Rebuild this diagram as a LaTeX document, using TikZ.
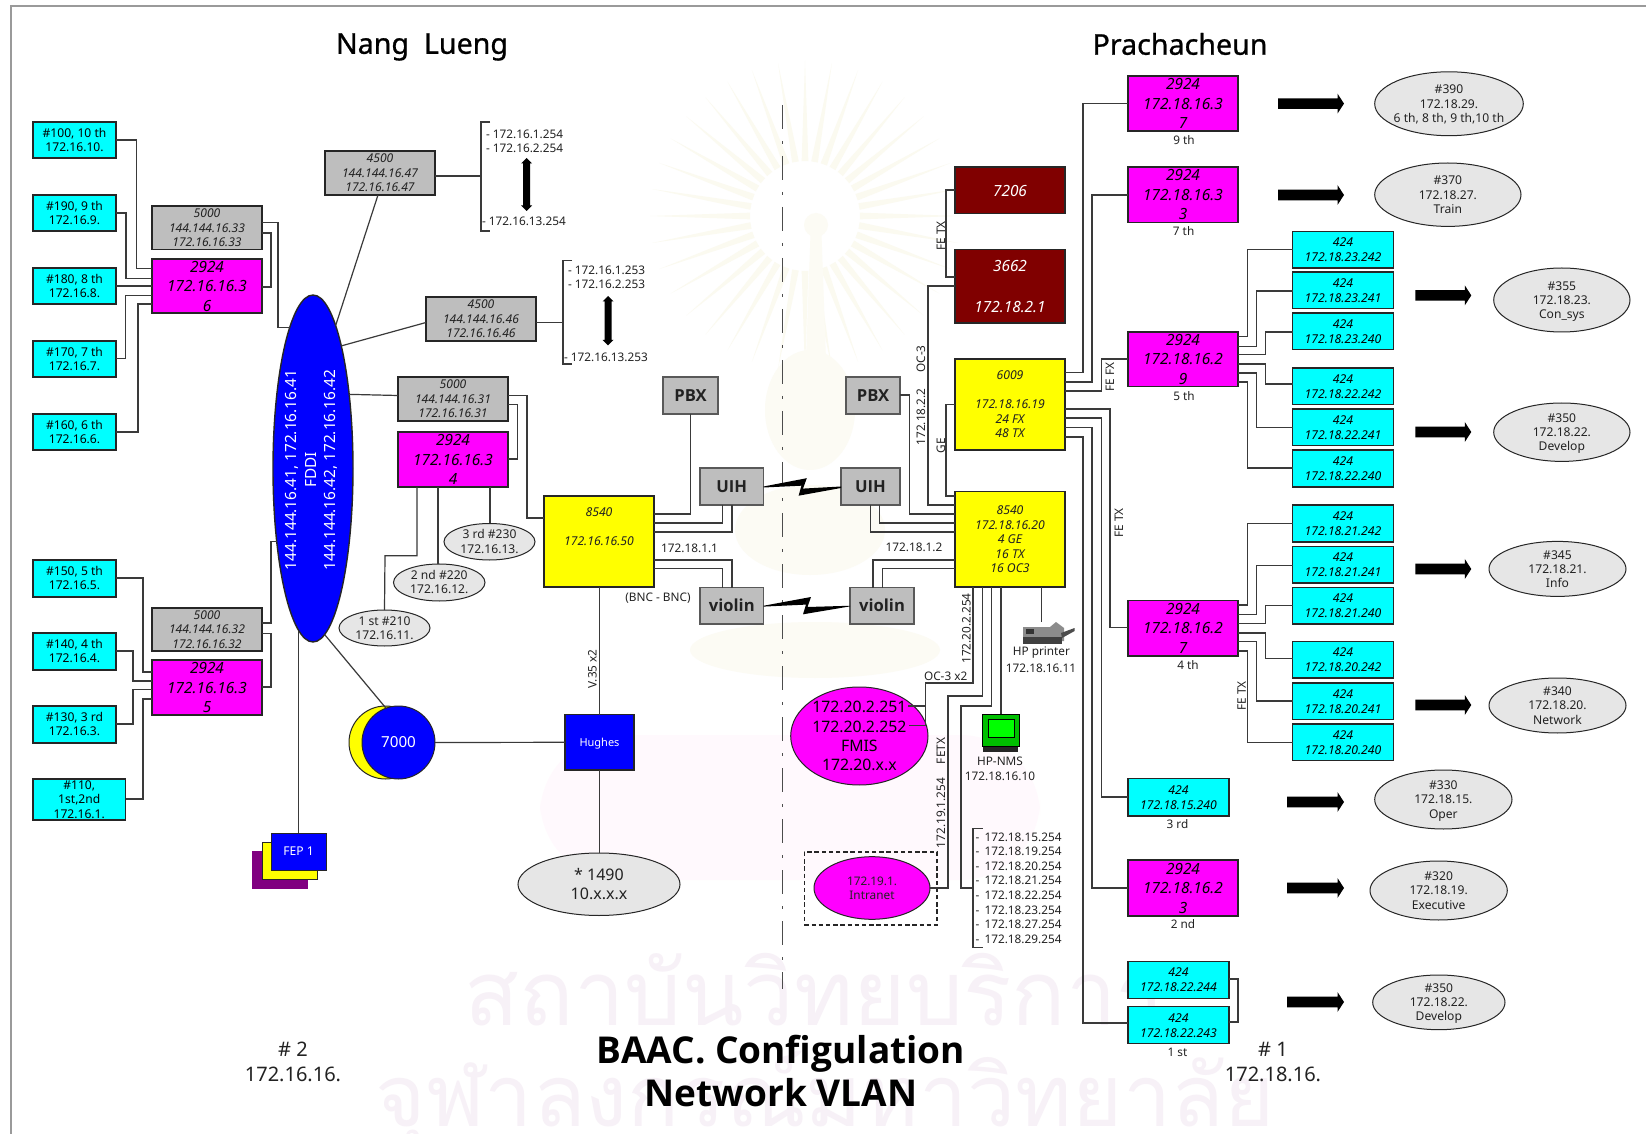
\documentclass[tikz,border=0pt]{standalone}
\usepackage{fontspec}
\setmainfont{Noto Sans}
\newfontfamily\thaif[Script=Thai]{Loma}
\newfontfamily\hvyf{Open Sans}
\newfontfamily\medf[FakeBold=0.9]{Noto Sans}
\usetikzlibrary{shapes.geometric}
\definecolor{pcyan}{HTML}{00FFFF}
\definecolor{pmag}{HTML}{FF00FF}
\definecolor{pyel}{HTML}{FFFF00}
\definecolor{pgry}{HTML}{BEBEBE}
\definecolor{pred}{HTML}{800000}
\definecolor{pblue}{HTML}{0000FF}
\definecolor{ppur}{HTML}{800080}
\definecolor{poval}{HTML}{E6E6E6}
\definecolor{pframe}{HTML}{9A9A9A}
\definecolor{pwire}{HTML}{3A3A3A}
\definecolor{ptxt}{HTML}{222222}
\definecolor{wmy}{HTML}{FBFAF0}
\definecolor{wmg}{HTML}{FCFBF4}
\definecolor{wmp}{HTML}{FFF9FD}
\definecolor{wmt}{HTML}{F7F1F7}
\newcommand\fsCy{\fontsize{6.05}{7.1}\selectfont}
\newcommand\fsIt{\fontsize{6.1}{7.5}\selectfont\itshape}
\newcommand\fsGr{\fontsize{6.05}{7.2}\selectfont\itshape}
\newcommand\fsMa{\fontsize{7.7}{9.8}\selectfont\itshape}
\newcommand\fsYe{\fontsize{6.1}{7.25}\selectfont\itshape}
\newcommand\fsRe{\fontsize{7.7}{10.2}\selectfont\itshape}
\newcommand\fsDe{\hvyf\fontsize{8.3}{10}\selectfont\bfseries}
\newcommand\fsFm{\fontsize{7.9}{9.65}\selectfont}
\newcommand\fsLa{\fontsize{5.9}{7.1}\selectfont}
\newcommand\tbl[1]{\sbox0{\begin{tabular}{@{}c@{}}#1\end{tabular}}\raisebox{\dimexpr(\dp0-\ht0)/2-0.37em\relax}[0pt][0pt]{\makebox[0pt]{\box0}}}
\newcommand\bx[7]{%
 \pgfmathsetmacro\cxx{(#3+#5)/2}\pgfmathsetmacro\cyy{(#4+#6)/2}%
 \pgfmathsetmacro\www{(#5-#3)*0.5}\pgfmathsetmacro\hhh{(#6-#4)*0.5}%
 \node[#1,minimum width=\www pt,minimum height=\hhh pt] (#2) at (\cxx,\cyy) {\tbl{#7}};}
% horizontal-vertical-horizontal connector
\newcommand\hvh[5]{\draw[wire] (#1 |- 0,#2) -| (#3,#4) -- (#5 |- 0,#4);}
\newcommand\barw[3]{\fill[black] (#1,{#3-5.3}) -- ({#2-6.5},{#3-5.3}) -- ({#2-6.5},{#3-10}) -- (#2,#3) -- ({#2-6.5},{#3+10}) -- ({#2-6.5},{#3+5.3}) -- (#1,{#3+5.3}) -- cycle;}
\newcommand\dbl[3]{\fill[black] ({#1-3.5},{#2+5.5}) -- ({#1-5.5},{#2+5.5}) -- (#1,#2) -- ({#1+5.5},{#2+5.5}) -- ({#1+3.5},{#2+5.5}) -- ({#1+3.5},{#3-5.5}) -- ({#1+5.5},{#3-5.5}) -- (#1,#3) -- ({#1-5.5},{#3-5.5}) -- ({#1-3.5},{#3-5.5}) -- cycle;}
\tikzset{
 wire/.style={draw=pwire,line width=0.6pt},
 base/.style={inner sep=0pt,outer sep=0pt,draw=black!85,line width=0.7pt,text=black},
 boxcy/.style={base,fill=pcyan,font=\fsCy},
 boxci/.style={base,fill=pcyan,font=\fsIt},
 boxgr/.style={base,fill=pgry,font=\fsGr,text=ptxt},
 boxma/.style={base,fill=pmag,font=\fsMa},
 boxye/.style={base,fill=pyel,font=\fsYe,text=ptxt},
 boxre/.style={base,fill=pred,font=\fsRe,text=white},
 boxde/.style={base,fill=pgry,draw=black!65,font=\fsDe,text=ptxt},
 oval/.style={base,ellipse,fill=poval,line width=0.5pt,font=\fsCy,text=ptxt},
 lab/.style={inner sep=0pt,outer sep=0pt,font=\fsLa,text=ptxt,align=center},
 ttl/.style={inner sep=0pt,outer sep=0pt,text=black,align=center},
}
\begin{document}
\begin{tikzpicture}[x=0.5pt,y=-0.5pt]
\useasboundingbox (0,0) rectangle (1646,1134);
\fill[white] (0,0) rectangle (1646,1134);
% watermark
\foreach \a in {0,10,...,350}{\fill[wmy] ({805+55*cos(\a-3.5)},{216+55*sin(\a-3.5)}) -- ({805+155*cos(\a)},{216+155*sin(\a)}) -- ({805+55*cos(\a+3.5)},{216+55*sin(\a+3.5)}) -- cycle;}
\fill[wmg] (811,220) -- (821,220) -- (826,360) -- (806,360) -- cycle;
\fill[wmg] (816,225) circle [radius=12];
\fill[wmg] (810,410) ellipse [x radius=45,y radius=60];
\fill[wmg] (810,530) ellipse [x radius=75,y radius=45];
\fill[wmg] (815,650) ellipse [x radius=125,y radius=28];
\fill[wmp,rounded corners=40pt] (540,735) rectangle (1040,880);
\node[ttl,font=\fontsize{45}{50}\selectfont\thaif,text=wmt] (wm1) at (815,990) {สถาบันวิทยบริการ};
\node[ttl,font=\fontsize{43}{50}\selectfont\thaif,text=wmt] (wm2) at (825,1100) {จุฬาลงกรณ์มหาวิทยาลัย};
% frame
\draw[pframe,line width=1.1pt] (10.7,1134) -- (10.7,6) -- (1646,6);
% divider
\draw[black!70,line width=0.5pt,dash pattern=on 12pt off 6pt on 1.5pt off 6pt] (782,105) -- (782,989);
% titles
\node[ttl,font=\fontsize{14.3}{17}\selectfont\medf] (tl) at (422,47) {Nang\ \ Lueng};
\node[ttl,font=\fontsize{14.3}{17}\selectfont\medf] (tr) at (1180,44) {Prachacheun};
\node[ttl,font=\hvyf\fontsize{18.5}{21.7}\selectfont\bfseries] (tm) at (781,1071) {BAAC. Configulation\\Network VLAN};
\node[ttl,font=\fontsize{10}{12.6}\selectfont,text=ptxt] (n2) at (293,1062) {\#\ 2\\172.16.16.};
\node[ttl,font=\fontsize{10}{12.4}\selectfont,text=ptxt] (n1) at (1273,1062) {\#\ 1\\172.18.16.};
% left cyan
\bx{boxcy}{c100}{33}{122}{116}{158}{\#100, 10 th\\172.16.10.}
\bx{boxcy}{c190}{33}{195}{116}{231}{\#190, 9 th\\172.16.9.}
\bx{boxcy}{c180}{33}{268}{116}{304}{\#180, 8 th\\172.16.8.}
\bx{boxcy}{c170}{33}{341}{116}{377}{\#170, 7 th\\172.16.7.}
\bx{boxcy}{c160}{33}{414}{116}{450}{\#160, 6 th\\172.16.6.}
\bx{boxcy}{c150}{33}{560}{116}{597}{\#150, 5 th\\172.16.5.}
\bx{boxcy}{c140}{33}{633}{116}{670}{\#140, 4 th\\172.16.4.}
\bx{boxcy}{c130}{33}{706}{116}{743}{\#130, 3 rd\\172.16.3.}
\bx{boxcy}{c110}{33}{779}{125.5}{820}{\#110,\\1st,2nd\\172.16.1.}
% left switches
\bx{boxgr}{g33}{152}{206}{262}{249.5}{5000\\144.144.16.33\\172.16.16.33}
\bx{boxma}{s36}{152}{259}{262}{313}{2924\\172.16.16.3\\6}
\bx{boxgr}{g32}{152}{608}{262}{651}{5000\\144.144.16.32\\172.16.16.32}
\bx{boxma}{s35}{152}{660}{262}{715}{2924\\172.16.16.3\\5}
\bx{boxgr}{g47}{325}{151}{435}{195}{4500\\144.144.16.47\\172.16.16.47}
\bx{boxgr}{g46}{426}{297}{536}{341}{4500\\144.144.16.46\\172.16.16.46}
\bx{boxgr}{g31}{398}{377}{508}{421}{5000\\144.144.16.31\\172.16.16.31}
\bx{boxma}{s34}{398}{432}{508}{487}{2924\\172.16.16.3\\4}
% FDDI
\bx{base,ellipse,fill=pblue}{fddi}{273}{295}{353}{642}{}
\node[ttl,rotate=90,text=white,font=\fontsize{7.7}{9.75}\selectfont] (fdditxt) at (311.5,470) {144.144.16.41, 172.16.16.41\\FDDI\\144.144.16.42, 172.16.16.42};
% 7000
\bx{base,ellipse,fill=pyel,line width=0.5pt}{y7000}{349}{706}{422}{779}{}
\bx{base,ellipse,fill=pblue,line width=0.5pt,text=white,font=\fontsize{7.6}{9}\selectfont}{b7000}{362}{706}{435}{779}{7000}
% FEP
\bx{base,fill=ppur,draw=ppur}{fep3}{252.5}{852}{307.5}{888.5}{}
\bx{base,fill=pyel,line width=0.5pt}{fep2}{262}{842}{317}{879}{}
\bx{base,fill=pblue,line width=0.5pt,text=white,font=\fsCy}{fep}{271}{833}{326}{870}{FEP 1}
% left ovals
\bx{oval}{e230}{444}{523.5}{535}{560}{3 rd \#230\\172.16.13.}
\bx{oval}{e220}{393.5}{564}{485}{601}{2 nd \#220\\172.16.12.}
\bx{oval}{e210}{339}{610}{430}{646}{1 st \#210\\172.16.11.}
% centre left
\bx{boxye}{y50}{544}{496}{654}{587}{8540\\~\\172.16.16.50\\~\\~}
\bx{boxde}{pbx1}{663}{377}{718}{414}{PBX}
\bx{boxde}{uih1}{700}{468}{763.5}{505}{UIH}
\bx{boxde}{vio1}{700}{587.5}{763.5}{624}{violin}
\bx{boxde}{pbx2}{846}{377}{900}{414}{PBX}
\bx{boxde}{uih2}{841}{468}{900}{505}{UIH}
\bx{boxde}{vio2}{850}{587.5}{914}{624}{violin}
\bx{base,fill=pblue,text=white,font=\fontsize{5.5}{7}\selectfont}{hug}{565}{714.6}{634}{770}{Hughes}
\bx{oval,font=\fontsize{8}{9.65}\selectfont}{e1490}{518}{853}{680}{915.5}{* 1490\\10.x.x.x}
% centre right
\bx{boxre}{r72}{955}{167}{1065}{213.6}{7206}
\bx{boxre}{r36}{955}{249.6}{1065}{323}{3662\\~\\172.18.2.1}
\bx{boxye}{y19}{955}{359}{1065}{450}{6009\\~\\172.18.16.19\\24 FX\\48 TX}
\bx{boxye}{y20}{955}{491.4}{1065}{587}{8540\\172.18.16.20\\4 GE\\16 TX\\16 OC3}
\bx{base,ellipse,fill=pmag,line width=0.5pt,font=\fsFm}{fmis}{790.7}{687}{928}{785}{172.20.2.251\\172.20.2.252\\FMIS\\172.20.x.x}
\bx{base,ellipse,fill=pmag,line width=0.5pt,font=\fsLa,text=ptxt}{intr}{814}{856.7}{930}{919.3}{172.19.1.\\Intranet}
\bx{base,dashed,fill=none,line width=0.6pt,dash pattern=on 2.2pt off 1.4pt}{dbox}{804.3}{852}{937}{925}{}
% right magenta and 424
\bx{boxma}{s37}{1128}{76}{1238}{131}{2924\\172.18.16.3\\7}
\bx{boxma}{s33}{1128}{167}{1238}{222.5}{2924\\172.18.16.3\\3}
\bx{boxma}{s29}{1128}{332}{1238}{386.4}{2924\\172.18.16.2\\9}
\bx{boxma}{s27}{1128}{600.6}{1238}{656}{2924\\172.18.16.2\\7}
\bx{boxma}{s23}{1128}{860}{1238}{916}{2924\\172.18.16.2\\3}
\bx{boxci}{a15}{1128}{778.6}{1229}{816}{424\\172.18.15.240}
\bx{boxci}{a244}{1128}{961.4}{1229}{998.4}{424\\172.18.22.244}
\bx{boxci}{a243}{1128}{1006.7}{1229}{1043.4}{424\\172.18.22.243}
\bx{boxci}{b1}{1292.7}{231.4}{1393.3}{268}{424\\172.18.23.242}
\bx{boxci}{b2}{1292.7}{272}{1393.3}{308.6}{424\\172.18.23.241}
\bx{boxci}{b3}{1292.7}{313}{1393.3}{349.6}{424\\172.18.23.240}
\bx{boxci}{b4}{1292.7}{368}{1393.3}{404.6}{424\\172.18.22.242}
\bx{boxci}{b5}{1292.7}{409}{1393.3}{445.7}{424\\172.18.22.241}
\bx{boxci}{b6}{1292.7}{450}{1393.3}{487}{424\\172.18.22.240}
\bx{boxci}{d1}{1292.7}{505}{1393.3}{542}{424\\172.18.21.242}
\bx{boxci}{d2}{1292.7}{546.4}{1393.3}{583}{424\\172.18.21.241}
\bx{boxci}{d3}{1292.7}{587.5}{1393.3}{624}{424\\172.18.21.240}
\bx{boxci}{d4}{1292.7}{641.6}{1393.3}{678}{424\\172.18.20.242}
\bx{boxci}{d5}{1292.7}{683}{1393.3}{719.6}{424\\172.18.20.241}
\bx{boxci}{d6}{1292.7}{724}{1393.3}{760.6}{424\\172.18.20.240}
% right ovals
\bx{oval}{o390}{1374.7}{71.8}{1523.3}{135.7}{\#390\\172.18.29.\\6 th, 8 th, 9 th,10 th}
\bx{oval}{o370}{1374.7}{163}{1521}{226.4}{\#370\\172.18.27.\\Train}
\bx{oval}{o355}{1493.7}{268}{1630}{332}{\#355\\172.18.23.\\Con\_sys}
\bx{oval}{o350}{1493.7}{403}{1630}{461.4}{\#350\\172.18.22.\\Develop}
\bx{oval}{o345}{1489}{541.4}{1626}{596.4}{\#345\\172.18.21.\\Info}
\bx{oval}{o340}{1489}{678}{1626}{733}{\#340\\172.18.20.\\Network}
\bx{oval}{o330}{1374.7}{770}{1512}{829}{\#330\\172.18.15.\\Oper}
\bx{oval}{o320}{1370}{861}{1507.3}{920}{\#320\\172.18.19.\\Executive}
\bx{oval}{o350b}{1372.7}{975}{1505}{1029.7}{\#350\\172.18.22.\\Develop}
% block arrows
\barw{1278}{1344}{103.6}
\barw{1278}{1344}{195}
\barw{1415.3}{1471.3}{295.4}
\barw{1415.3}{1471.3}{432}
\barw{1415.3}{1471.3}{569}
\barw{1415.3}{1471.3}{705}
\barw{1287}{1344}{802}
\barw{1287}{1344}{888}
\barw{1287}{1344}{1002}
% left wires
\hvh{c100.east}{140}{136.5}{268.5}{s36.west}
\hvh{c190.east}{213}{126}{278.5}{s36.west}
\draw[wire] (c180.east) -- (s36.west |- c180.east);
\hvh{c170.east}{358.5}{125.5}{295.5}{s36.west}
\hvh{c160.east}{432}{138}{304}{s36.west}
\hvh{c150.east}{578}{143}{672}{s35.west}
\hvh{c140.east}{651}{133}{681}{s35.west}
\hvh{c130.east}{724}{133}{689.6}{s35.west}
\hvh{c110.east}{799}{143}{699}{s35.west}
\hvh{g33.east}{222.5}{278}{327.5}{fddi.99}
\hvh{g33.east}{233}{271}{287}{s36.east}
\hvh{g32.east}{623}{271}{541.5}{fddi.244}
\hvh{g32.east}{633.5}{271}{687}{s35.east}
\draw[wire] (g47.south -| 378,0) -- (fddi.81);
\draw[wire] (g46.west |- 0,322.5) -- (fddi.77);
\draw[wire] (g31.west |- 0,395.5) -- (fddi.64);
\hvh{g31.east}{395.5}{527}{518}{y50.west}
\hvh{g31.east}{404.5}{517.5}{459}{s34.east}
\draw[wire] (s34.south -| 490,0) -- (e230.north -| 490,0);
\draw[wire] (s34.south -| 438,0) -- (e220.north -| 438,0);
\draw[wire] (s34.south -| 417,0) |- (385,555.7) -- (e210.north);
\draw[wire] (fddi.274) -- (b7000.110);
\draw[wire] (fep.north) -- (fep.north |- fddi.265);
\draw[wire] (b7000.east) -- (hug.west);
\draw[wire] (y50.south -| hug.north) -- (hug.north);
\draw[wire] (hug.south) -- (e1490.north -| hug.south);
% brackets
\coordinate (br1) at (481,176);
\coordinate (br2) at (563,322.5);
\coordinate (br3) at (973,888);
\draw[wire] (490,122) -| (br1) |- (490,231);
\draw[wire] (572,260.3) -| (br2) |- (572,364);
\draw[wire] (982.5,828.6) -| (br3) |- (982.5,947.7);
\draw[wire] (g47.east |- br1) -- (br1);
\draw[wire] (g46.east |- br2) -- (br2);
\dbl{526.5}{158}{211}
\dbl{608}{296}{345.4}
\node[lab,anchor=west] (l11) at (486,134) {- 172.16.1.254};
\node[lab,anchor=west] (l12) at (486,148.3) {- 172.16.2.254};
\node[lab,anchor=west] (l13) at (482,221) {- 172.16.13.254};
\node[lab,anchor=west] (l21) at (568,270) {- 172.16.1.253};
\node[lab,anchor=west] (l22) at (568,284.7) {- 172.16.2.253};
\node[lab,anchor=west] (l23) at (564,357) {- 172.16.13.253};
\foreach \y/\t/\n in {837.5/15/a,851.6/19/b,866.7/20/c,880.7/21/d,895.8/22/e,910.6/23/f,924.6/27/g,939.7/29/h}
 \node[lab,anchor=west] (lst\n) at (975.7,\y) {-\ \,172.18.\t.254};
% centre wires
\draw[wire] (pbx1.south) |- (y50.east |- 0,514);
\draw[wire] (uih1.south -| 722.5,0) |- (y50.east |- 0,523);
\draw[wire] (uih1.south -| 732,0) |- (y50.east |- 0,532);
\draw[wire] (vio1.north -| 732,0) |- (y50.east |- 0,560);
\draw[wire] (vio1.north -| 722.5,0) |- (y50.east |- 0,568.6);
\fill[black] (uih1.east) -- (806.8,478.2) -- (803,488.6) -- (uih2.west) -- (841,488) -- (798.6,495.7) -- (801.4,485.7) -- (763.5,487.5) -- cycle;
\fill[black] (vio1.east) -- (811,597) -- (807.5,607) -- (vio2.west) -- (850,606.4) -- (803,614.3) -- (806,604.6) -- (763.5,606.6) -- cycle;
\node[lab] (t1) at (689.6,548) {172.18.1.1};
\node[lab] (t2) at (914,547.5) {172.18.1.2};
\node[lab] (t3) at (658,598) {(BNC - BNC)};
\node[lab,rotate=90] (t4) at (592.5,669) {V.35 x2};
% right centre wires
\hvh{r72.west}{190}{946}{277}{r36.west}
\hvh{r36.west}{286}{928}{505}{y20.west}
\hvh{y19.west}{404.6}{946}{496}{y20.west}
\hvh{pbx2.east}{395}{909.6}{514}{y20.west}
\draw[wire] (uih2.south -| 879.6,0) |- (y20.west |- 0,523);
\draw[wire] (uih2.south -| 870.7,0) |- (y20.west |- 0,532);
\draw[wire] (vio2.north -| 873,0) |- (y20.west |- 0,560);
\draw[wire] (vio2.north -| 882.5,0) |- (y20.west |- 0,568.6);
\node[lab,rotate=90] (t5) at (941,236) {FE TX};
\node[lab,rotate=90] (t6) at (921,359) {OC-3};
\node[lab,rotate=90] (t7) at (921,417) {172.18.2.2};
\node[lab,rotate=90] (t8) at (941,446) {GE};
\node[lab,rotate=90] (t9) at (1110,377) {FE FX};
\node[lab,rotate=90] (t10) at (1119,523) {FE TX};
\node[lab,rotate=90] (t11) at (1241.7,696) {FE TX};
\node[lab,rotate=90] (t12) at (966.4,628.6) {172.20.2.254};
\node[lab] (t13) at (945.7,675.8) {OC-3 x2};
\node[lab,rotate=90] (t14) at (941,751) {FETX};
\node[lab,rotate=90] (t15) at (941,813) {172.19.1.254};
\node[lab] (t16) at (1184,139.6) {9 th};
\node[lab] (t17) at (1183.6,230.7) {7 th};
\node[lab] (t18) at (1184,395.7) {5 th};
\node[lab] (t19) at (1188,664.6) {4 th};
\node[lab] (t20) at (1177.5,823.6) {3 rd};
\node[lab] (t21) at (1183,923.6) {2 nd};
\node[lab] (t22) at (1177.5,1052) {1 st};
% 6009 outputs
\hvh{y19.east}{372.5}{1083}{103.6}{s37.west}
\hvh{y19.east}{382}{1092}{195}{s33.west}
\hvh{y19.east}{391}{1101.4}{359}{s29.west}
\hvh{y19.east}{409}{1110}{627.5}{s27.west}
\hvh{y19.east}{418}{1101.4}{797}{a15.west}
\hvh{y19.east}{427.5}{1092}{888}{s23.west}
\hvh{y19.east}{437}{1083}{1023}{a243.west}
\hvh{a244.east}{979}{1238}{1022}{a243.east}
% switch fans
\hvh{s29.east}{336.4}{1247.3}{249.6}{b1.west}
\hvh{s29.east}{346.4}{1256.7}{291}{b2.west}
\hvh{s29.east}{354.6}{1265.7}{332}{b3.west}
\hvh{s29.east}{364}{1265.7}{384}{b4.west}
\hvh{s29.east}{373}{1256.7}{427.5}{b5.west}
\hvh{s29.east}{382}{1247.3}{468}{b6.west}
\hvh{s27.east}{605}{1247.3}{523.6}{d1.west}
\hvh{s27.east}{614.6}{1256.7}{565.7}{d2.west}
\hvh{s27.east}{623.6}{1265.7}{605.3}{d3.west}
\hvh{s27.east}{633}{1265.7}{658.5}{d4.west}
\hvh{s27.east}{641.6}{1256.7}{701}{d5.west}
\hvh{s27.east}{651}{1247.3}{742.7}{d6.west}
% 8540 bottom
\coordinate (prt) at (1041.8,622);
\coordinate (mon) at (1001,714);
\draw[wire] (y20.south -| 973,0) |- (925.4,683) -- (925.4,725.8) -- (908.6,725.8);
\draw[wire] (925.4,706) -- (908,706);
\draw[wire] (y20.south -| 982.5,0) |- (948,696) |- (intr.east);
\draw[wire] (y20.south -| 991.8,0) |- (961,706) |- (br3);
\draw[wire] (y20.south -| mon) -- (mon);
\draw[wire] (y20.south -| prt) -- (prt);
% printer
\fill[black!45] (1023,627) -- (1050,627) -- (1056,622) -- (1064,628) -- (1064,641) -- (1023,641) -- cycle;
\fill[black!75] (1023,637) rectangle (1062,643.7);
\fill[black!80] (1026,629) rectangle (1034,634);
\fill[black!70] (1061,633) -- (1074.6,628) -- (1074.6,631) -- (1062,638) -- cycle;
\node[lab] (hp1) at (1041.4,653) {HP printer};
\node[lab] (hp2) at (1041,668) {172.18.16.11};
% monitor
\fill[black!85] (983,745) rectangle (1018,751.6);
\draw[black,fill=green!75!black,line width=0.5pt] (982,714) rectangle (1019.6,746);
\draw[black,fill=green,line width=0.5pt] (988,719) rectangle (1014,737);
\node[lab] (hp3) at (1000,761.7) {HP-NMS};
\node[lab] (hp4) at (1000,776.8) {172.18.16.10};
\end{tikzpicture}
\end{document}
